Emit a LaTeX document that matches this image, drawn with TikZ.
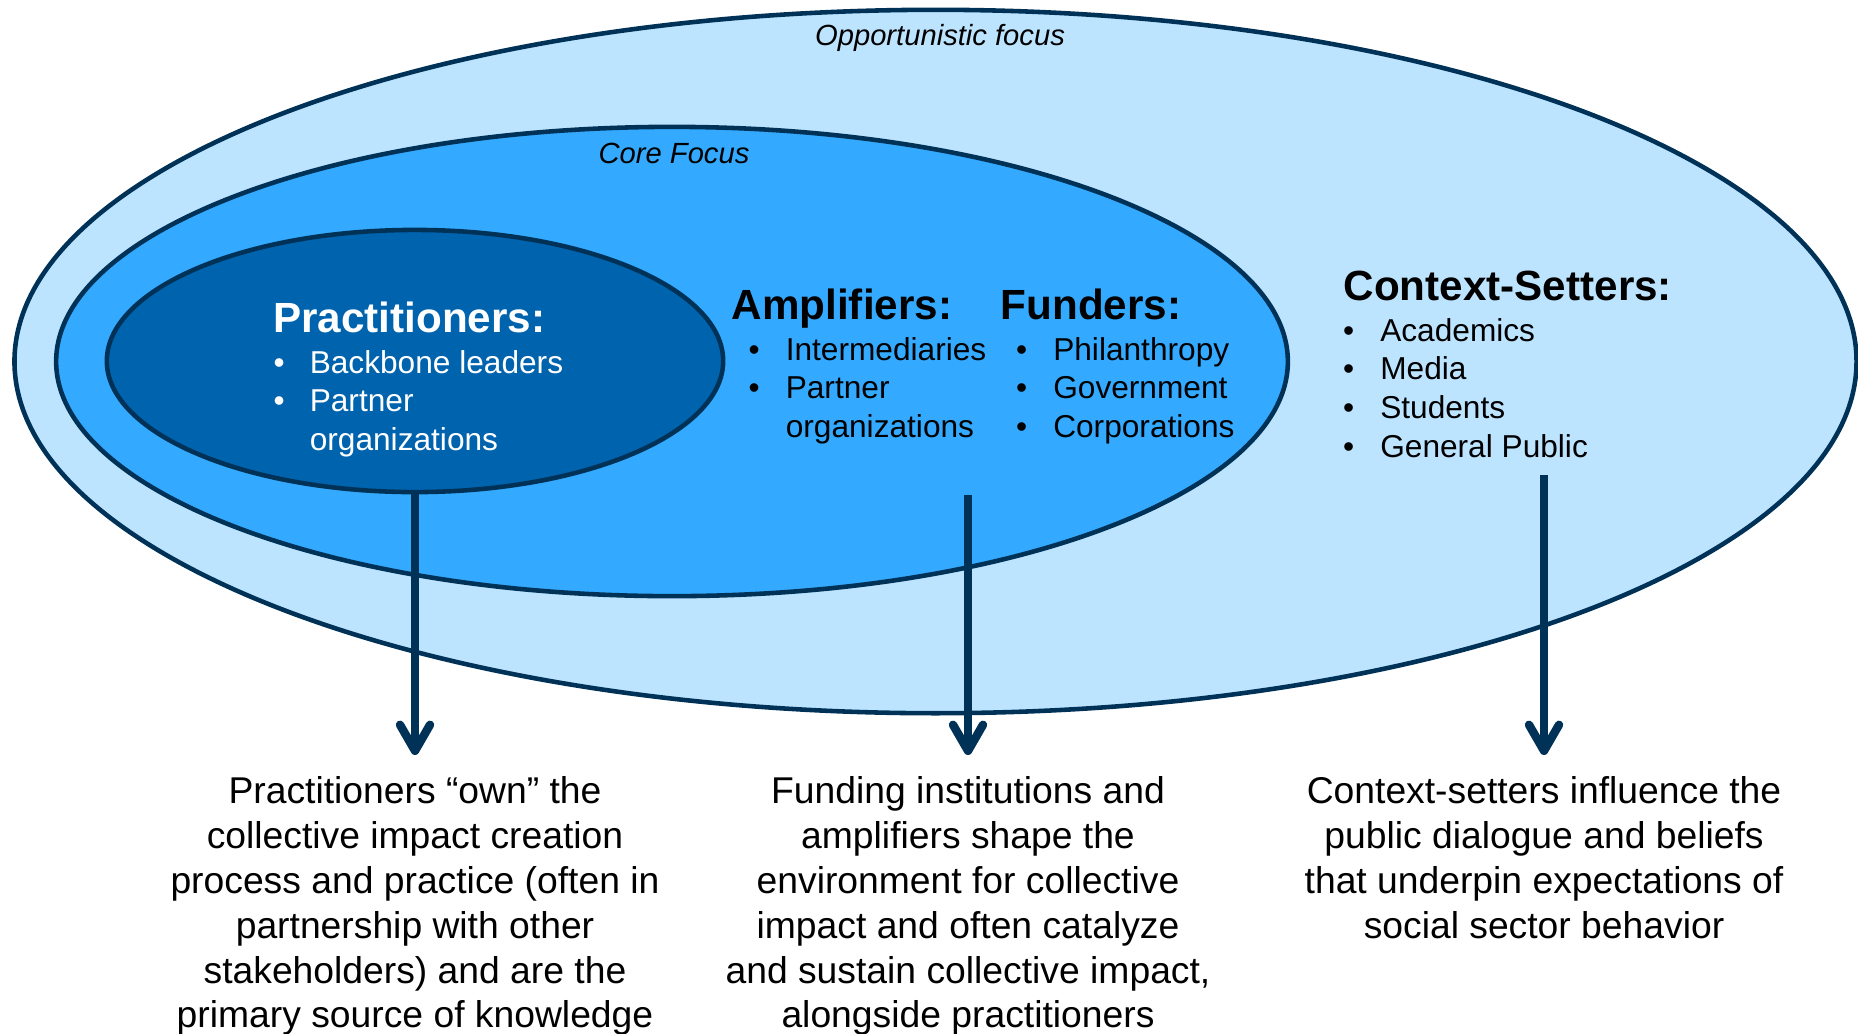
\documentclass[tikz,border=0pt]{standalone}
\usepackage{fontspec}
\setmainfont{Liberation Sans}
\usetikzlibrary{shapes.geometric,arrows.meta}
\definecolor{oppblue}{RGB}{189,228,255}
\definecolor{coreblue}{RGB}{51,170,255}
\definecolor{pracblue}{RGB}{0,99,174}
\definecolor{navy}{RGB}{0,50,88}

\begin{document}
\begin{tikzpicture}[x=0.01cm,y=-0.01cm]

\tikzstyle{ring} = [ellipse, draw=navy, line width=1.3pt, inner sep=0]
\tikzstyle{hdr} = [anchor=base west, inner sep=0, font=\fontsize{12}{14}\selectfont\bfseries]
\tikzstyle{lst} = [anchor=base west, inner sep=0, font=\fontsize{9}{11}\selectfont]
\tikzstyle{focus} = [anchor=base, inner sep=0, font=\fontsize{8.3}{10}\selectfont\itshape]
\tikzstyle{note} = [anchor=north, inner sep=0.166cm, font=\fontsize{10.6}{12.75}\selectfont]
\tikzstyle{down} = [draw=navy, line width=2.4pt, -{Straight Barb[round,length=2.6mm,width=3mm]}]

\clip (0,0) rectangle (1858,1033);

% the three focus rings
\node [ring, fill=oppblue, minimum width=18.41cm, minimum height=7.03cm] (opp) at (935.5,361.5) {};
\node [ring, fill=coreblue, minimum width=12.31cm, minimum height=4.69cm] (core) at (672,361.5) {};
\node [ring, fill=pracblue, minimum width=6.16cm, minimum height=2.62cm] (prac) at (415,361) {};

\node [focus] (opplabel) at (940,45) {Opportunistic focus};
\node [focus] (corelabel) at (674,163) {Core Focus};

% practitioners
\node [hdr, text=white] (prachdr) at (272.5,332.5) {Practitioners:};
\node [lst, text=white] (praclist) at (273,373) {\begin{tabular}[t]{@{}l@{\hspace{0.25cm}}l@{}} • & Backbone leaders\\ • & Partner\\ & organizations\end{tabular}};

% amplifiers and funders
\node [hdr] (amphdr) at (731,319.5) {Amplifiers:};
\node [lst] (amplist) at (748,360) {\begin{tabular}[t]{@{}l@{\hspace{0.26cm}}l@{}} • & Intermediaries\\ • & Partner\\ & organizations\end{tabular}};

\node [hdr] (fundhdr) at (1000,319.5) {Funders:};
\node [lst] (fundlist) at (1015.5,360) {\begin{tabular}[t]{@{}l@{\hspace{0.26cm}}l@{}} • & Philanthropy\\ • & Government\\ • & Corporations\end{tabular}};

% context-setters
\node [hdr] (ctxhdr) at (1343,300) {Context-Setters:};
\node [lst] (ctxlist) at (1342.5,341) {\begin{tabular}[t]{@{}l@{\hspace{0.26cm}}l@{}} • & Academics\\ • & Media\\ • & Students\\ • & General Public\end{tabular}};

% notes below
\node [note] (practxt) at (415,755) {\begin{tabular}{@{}c@{}} Practitioners “own” the\\ collective impact creation\\ process and practice (often in\\ partnership with other\\ stakeholders) and are the\\ primary source of knowledge\end{tabular}};
\node [note] (fundtxt) at (968,755) {\begin{tabular}{@{}c@{}} Funding institutions and\\ amplifiers shape the\\ environment for collective\\ impact and often catalyze\\ and sustain collective impact,\\ alongside practitioners\end{tabular}};
\node [note] (ctxtxt) at (1544,755) {\begin{tabular}{@{}c@{}} Context-setters influence the\\ public dialogue and beliefs\\ that underpin expectations of\\ social sector behavior\end{tabular}};

\coordinate (ampfoot) at (968,495);
\coordinate (ctxfoot) at (1544,475);

\draw [down] (prac.south) -- (practxt.north);
\draw [down] (ampfoot) -- (fundtxt.north);
\draw [down] (ctxfoot) -- (ctxtxt.north);

\end{tikzpicture}
\end{document}
